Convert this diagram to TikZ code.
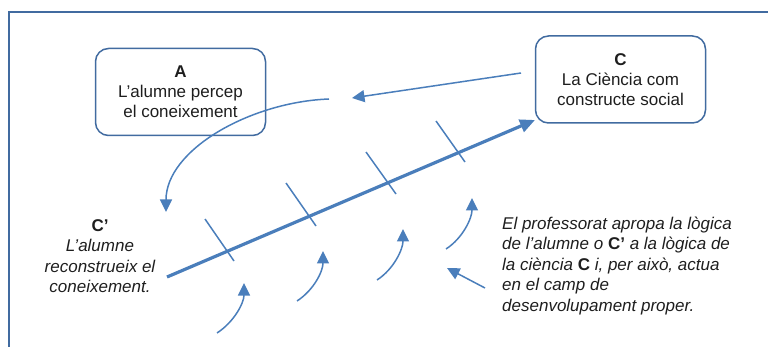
\documentclass[tikz,border=0pt]{standalone}
\usepackage{fontspec}
\setmainfont{Liberation Sans}
\usetikzlibrary{arrows.meta}
\definecolor{flowblue}{RGB}{74,126,187}
\definecolor{framecol}{RGB}{65,107,160}
\definecolor{inkgrey}{RGB}{30,30,30}
\begin{document}
\begin{tikzpicture}[x=1pt,y=-1pt,
  box/.style={draw=framecol, line width=1.5pt, rounded corners=13pt,
    minimum width=170pt, minimum height=87pt, align=center, text=inkgrey,
    font=\fontsize{17}{20}\selectfont, inner sep=0pt},
  note/.style={text=inkgrey, font=\fontsize{17}{20.5}\selectfont\itshape, inner sep=0pt},
  link/.style={draw=flowblue, line width=1.5pt, -{Triangle[length=12.5pt,width=12pt]}},
  tick/.style={draw=flowblue, line width=1.5pt},
  axis/.style={draw=flowblue, line width=3.2pt, -{Triangle[length=15pt,width=13pt]}}]
\useasboundingbox (0,0) rectangle (768,347);

% outer frame (runs off the right and bottom edges)
\draw[framecol, line width=2pt] (9,347) -- (9,12) -- (768,12);

% boxes
\node[box] (A) at (180.5,92) {\textbf{A}\\L’alumne percep\\el coneixement};
\node[box] (C) at (620.5,79.5) {\textbf{C}\\La Ciència com\\constructe social};

% texts
\node[note, align=center] (Cp) at (100,256)
  {{\upshape\bfseries C’}\\L’alumne\\reconstrueix el\\coneixement.};
\node[note, align=left, anchor=west] (prof) at (502,266)
  {El professorat apropa la lògica\\
   de l’alumne o {\upshape\bfseries C’} a la lògica de\\
   la ciència {\upshape\bfseries C} i, per això, actua\\
   en el camp de\\
   desenvolupament proper.};

% main axis from C' to C
\coordinate (ax0) at (167,277);
\coordinate (ax1) at (535,120);
\draw[axis] (ax0) -- (ax1);

% cross ticks on the axis
\coordinate (t1a) at (205,219); \coordinate (t1b) at (234,261);
\coordinate (t2a) at (286,183); \coordinate (t2b) at (316,226);
\coordinate (t3a) at (366,152); \coordinate (t3b) at (396,194);
\coordinate (t4a) at (436,121); \coordinate (t4b) at (465,162);
\draw[tick] (t1a) -- (t1b);
\draw[tick] (t2a) -- (t2b);
\draw[tick] (t3a) -- (t3b);
\draw[tick] (t4a) -- (t4b);

% from C towards A
\coordinate (cs) at (521,73);
\coordinate (ce) at (352,98);
\draw[link] (cs) -- (ce);

% loop down to C'
\coordinate (ls) at (329,99);
\coordinate (le) at (166,212);
\draw[link] (ls) .. controls (250,102) and (166,150) .. (le);

% small upward arrows
\coordinate (u1s) at (217,333); \coordinate (u1e) at (244,283);
\coordinate (u2s) at (297,301); \coordinate (u2e) at (323,251);
\coordinate (u3s) at (377,280); \coordinate (u3e) at (403,229);
\coordinate (u4s) at (446,249); \coordinate (u4e) at (472,198);
\draw[link] (u1s) .. controls (234,322) and (244,303) .. (u1e);
\draw[link] (u2s) .. controls (314,290) and (323,271) .. (u2e);
\draw[link] (u3s) .. controls (394,269) and (403,249) .. (u3e);
\draw[link] (u4s) .. controls (463,238) and (472,218) .. (u4e);

% pointer from the note
\coordinate (ps) at (485,288);
\coordinate (pe) at (447,268);
\draw[link] (ps) -- (pe);
\end{tikzpicture}
\end{document}
